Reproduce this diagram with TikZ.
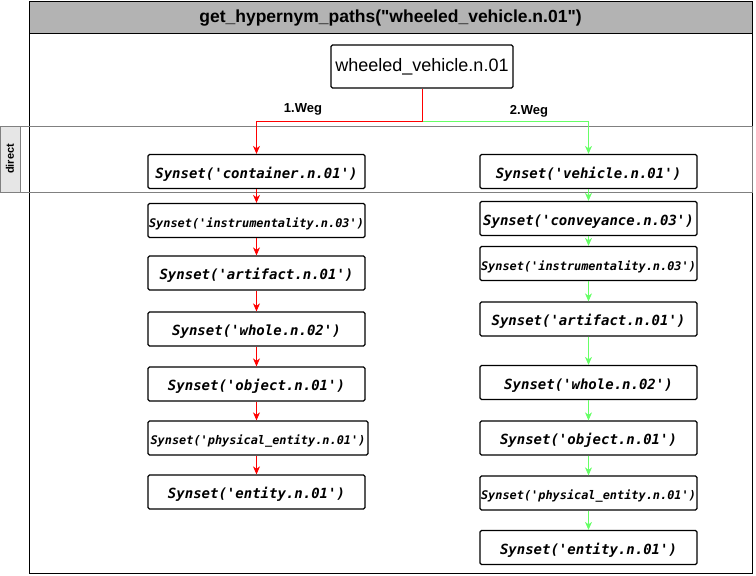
\documentclass[tikz,border=0pt]{standalone}
\usepackage{fontspec}
\setmainfont{Liberation Sans}[Ligatures=TeXOff]
\newfontfamily\synfont{DejaVu Sans Mono}[Ligatures=TeXOff]
\usetikzlibrary{arrows.meta}
\definecolor{lanegray}{HTML}{808080}
\definecolor{lanefill}{HTML}{E6E6E6}
\definecolor{titlefill}{HTML}{B3B3B3}
\definecolor{pathred}{HTML}{FF0000}
\definecolor{pathgreen}{HTML}{66FF66}
\tikzset{
  titlebar/.style={draw=black, fill=titlefill, line width=.8pt},
  titletext/.style={font=\bfseries\fontsize{17.5}{20}\selectfont},
  lanebox/.style={draw=lanegray, line width=.8pt},
  lanelabel/.style={draw=lanegray, fill=lanefill, line width=.8pt},
  rootbox/.style={draw=black, line width=1.3pt, rounded corners=1.5pt,
    minimum width=182pt, minimum height=43pt, inner sep=0pt,
    font=\fontsize{18}{20}\selectfont},
  synbox/.style={draw=black, line width=1.3pt, rounded corners=1.5pt,
    minimum width=217pt, minimum height=34pt, inner sep=0pt,
    text height=13pt, text depth=0pt,
    font=\synfont\bfseries\itshape\fontsize{14}{16}\selectfont},
  synsmall/.style={synbox, font=\synfont\bfseries\itshape\fontsize{11.9}{14}\selectfont},
  weglabel/.style={font=\bfseries\fontsize{13}{15}\selectfont},
  redflow/.style={-{Stealth[length=8pt,width=7pt,inset=2.5pt]}, draw=pathred, line width=.8pt},
  greenflow/.style={-{Stealth[length=8pt,width=7pt,inset=2.5pt]}, draw=pathgreen, line width=.8pt}
}
\begin{document}
\begin{tikzpicture}[x=1pt,y=-1pt]
  \useasboundingbox (0,0) rectangle (756,576);
  % frame, title and the "direct" lane
  \draw[line width=.8pt] (29,1) rectangle (752,573);
  \draw[titlebar] (29,1) rectangle (752,33);
  \node[titletext] (title) at (390.5,18) {get\_hypernym\_paths("wheeled\_vehicle.n.01")};
  \draw[lanebox] (0,126) rectangle (752,192);
  \draw[lanelabel] (0,126) rectangle (20,192);
  \node[font=\bfseries\fontsize{11}{13}\selectfont, rotate=90] (lanename) at (10,159) {direct};

  \node[rootbox] (root) at (422,66.5) {wheeled\_vehicle.n.01};
  \coordinate (split) at (422,121);

  % 1.Weg
  \node[synbox] (l1) at (256.5,171.5) {Synset('container.n.01')};
  \node[synsmall] (l2) at (256.5,220.5) {Synset('instrumentality.n.03')};
  \node[synbox] (l3) at (256.5,273) {Synset('artifact.n.01')};
  \node[synbox] (l4) at (256.5,329) {Synset('whole.n.02')};
  \node[synbox] (l5) at (256.5,384) {Synset('object.n.01')};
  \node[synsmall, minimum width=220pt] (l6) at (258,438) {Synset('physical\_entity.n.01')};
  \node[synbox] (l7) at (256.5,492) {Synset('entity.n.01')};

  % 2.Weg
  \node[synbox] (r1) at (588.5,171.5) {Synset('vehicle.n.01')};
  \node[synbox] (r2) at (588.5,218.5) {Synset('conveyance.n.03')};
  \node[synsmall] (r3) at (588.5,263.5) {Synset('instrumentality.n.03')};
  \node[synbox] (r4) at (588.5,319) {Synset('artifact.n.01')};
  \node[synbox] (r5) at (588.5,382.5) {Synset('whole.n.02')};
  \node[synbox] (r6) at (588.5,438) {Synset('object.n.01')};
  \node[synsmall] (r7) at (588.5,493) {Synset('physical\_entity.n.01')};
  \node[synbox] (r8) at (588.5,547.5) {Synset('entity.n.01')};

  \draw[greenflow] (split) -| (r1.north);
  \draw[redflow] (root.south) -- (split) -| (l1.north);
  \node[weglabel] (weg1) at (303,109) {1.Weg};
  \node[weglabel] (weg2) at (529,111) {2.Weg};

  \foreach \a/\b in {l1/l2,l2/l3,l3/l4,l4/l5,l5/l6,l6/l7} {
    \draw[redflow] (\a.south -| l1.south) -- (\b.north -| l1.south);
  }
  \foreach \a/\b in {r1/r2,r2/r3,r3/r4,r4/r5,r5/r6,r6/r7,r7/r8} {
    \draw[greenflow] (\a) -- (\b);
  }
\end{tikzpicture}
\end{document}
